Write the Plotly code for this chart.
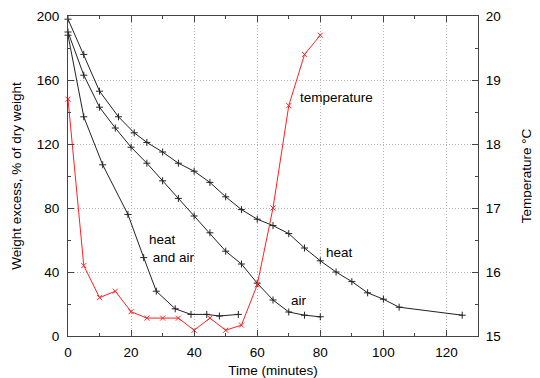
import plotly.graph_objects as go

# Data
heat_t = [0, 5, 10, 16, 21, 25, 30, 35, 40, 45, 50, 55, 60, 65, 70, 75, 80, 85, 90, 95, 100, 105, 125]
heat_w = [198, 176, 153, 137, 127, 121, 115, 108, 103, 96, 87, 79, 73, 69, 64, 55, 47, 40, 34, 27, 23, 18, 13]

air_t = [0, 5, 10, 15, 20, 25, 30, 35, 40, 45, 50, 55, 60, 65, 70, 75, 80]
air_w = [190, 163, 143, 130, 118, 108, 97, 86, 75, 64.5, 53, 45, 33, 22.5, 15, 13, 12]

ha_t = [0, 5, 11, 19, 24, 28, 34, 39, 44, 48, 54]
ha_w = [188, 137, 107, 76, 49, 28, 17, 13.5, 13.5, 12.5, 13.5]

temp_t = [0, 5, 10, 15, 20, 25, 30, 35, 40, 45, 50, 55, 60, 65, 70, 75, 80]
temp_c = [18.7, 16.1, 15.6, 15.7, 15.38, 15.28, 15.28, 15.28, 15.09, 15.28, 15.09, 15.17, 15.8, 17.0, 18.6, 19.4, 19.7]

x_ticks = [0, 20, 40, 60, 80, 100, 120]
y_ticks = [0, 40, 80, 120, 160, 200]
t_ticks = [15, 16, 17, 18, 19, 20]

FONT = "Liberation Sans, Arial, sans-serif"
FS = 13.5
BLACK = "#222222"
RED = "#ff2020"
GRID = "#b4b4b4"

fig = go.Figure()
for xs, ys in [(heat_t, heat_w), (air_t, air_w), (ha_t, ha_w)]:
    fig.add_trace(go.Scatter(
        x=xs, y=ys, mode="lines+markers",
        line=dict(color=BLACK, width=1),
        marker=dict(symbol="cross-thin", size=5, line=dict(color=BLACK, width=1)),
        showlegend=False, cliponaxis=False))
fig.add_trace(go.Scatter(
    x=temp_t, y=temp_c, yaxis="y2", mode="lines+markers",
    line=dict(color=RED, width=1),
    marker=dict(symbol="x-thin", size=5, line=dict(color=RED, width=1)),
    showlegend=False, cliponaxis=False))

labels = [
    ("temperature", 72.9, 149),
    ("heat", 81.2, 52.5),
    ("air", 70, 22.5),
    ("heat<br> and air", 25, 55),
]
for txt, x, y in labels:
    fig.add_annotation(x=x, y=y, text=txt, showarrow=False, xanchor="left", align="left",
                       yanchor="middle", font=dict(size=FS, color="black", family=FONT))

axis_common = dict(
    showline=True, linecolor="#444444", linewidth=1,
    ticks="inside", ticklen=6, tickcolor="#444444", tickwidth=1,
    tickfont=dict(size=FS, color="black", family=FONT),
    zeroline=False, automargin=False,
)

fig.update_layout(
    template="none",
    width=532, height=370,
    margin=dict(l=60, r=62, t=8, b=42),
    paper_bgcolor="white", plot_bgcolor="white",
    font=dict(family=FONT, size=FS, color="black"),
    xaxis=dict(
        range=[0, 130], tickvals=x_ticks, mirror="ticks",
        showgrid=True, gridcolor=GRID, griddash="1px,2px", gridwidth=1,
        minor=dict(ticks="inside", dtick=10, ticklen=3, tickcolor="#444444", showgrid=False),
        ticklabelstandoff=4,
        title=dict(text="Time (minutes)", font=dict(size=FS), standoff=6),
        **axis_common),
    yaxis=dict(
        range=[0, 200], tickvals=y_ticks, mirror="ticks",
        showgrid=True, gridcolor=GRID, griddash="1px,2px", gridwidth=1,
        minor=dict(ticks="inside", dtick=20, ticklen=3, tickcolor="#444444", showgrid=False),
        ticklabelstandoff=5,
        title=dict(text="Weight excess, % of dry weight", font=dict(size=FS), standoff=12),
        **axis_common),
    yaxis2=dict(
        range=[15, 20], tickvals=t_ticks, overlaying="y", side="right",
        showgrid=False,
        minor=dict(ticks="inside", dtick=0.5, ticklen=3, tickcolor="#444444", showgrid=False),
        ticklabelstandoff=4,
        title=dict(text="Temperature °C", font=dict(size=FS), standoff=21),
        **axis_common),
)

fig.write_html("out.html")
